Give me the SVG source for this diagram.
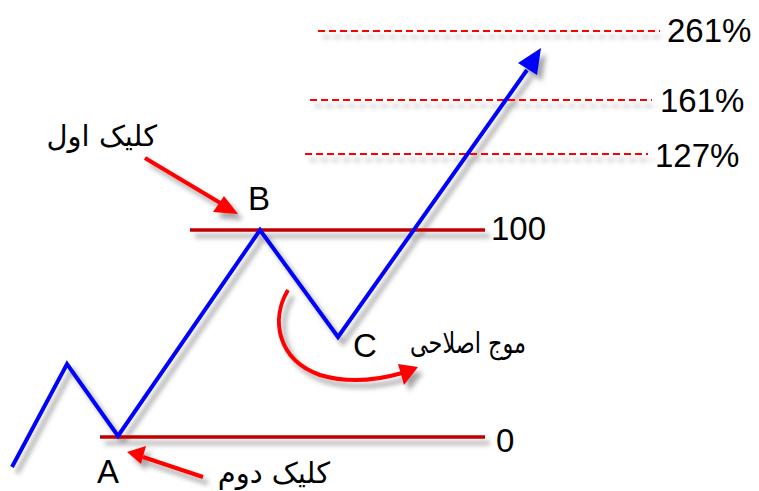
<svg xmlns="http://www.w3.org/2000/svg" width="759" height="491" viewBox="0 0 759 491">
<defs>
<filter id="sh" x="-10%" y="-20%" width="130%" height="160%">
<feGaussianBlur in="SourceAlpha" stdDeviation="2.5"/>
<feOffset dx="5" dy="6" result="b"/>
<feFlood flood-color="#000" flood-opacity="0.35"/>
<feComposite in2="b" operator="in" result="s"/>
<feMerge><feMergeNode in="s"/><feMergeNode in="SourceGraphic"/></feMerge>
</filter>
</defs>
<style>
.lvl{stroke:#c00000;stroke-width:3.5;fill:none}
.dash{stroke:#ff0000;stroke-width:2;stroke-dasharray:7,4;fill:none}
.wave{stroke:#0000ff;stroke-width:4;fill:none;stroke-linejoin:miter}
.red{stroke:#ff0000;stroke-width:4;fill:none}
.t{font-family:"Liberation Sans",Arial,sans-serif;font-size:33px;fill:#000}
.ar{font-family:"DejaVu Sans",sans-serif;font-size:29px;fill:#000}
</style>
<rect width="759" height="491" fill="#ffffff"/>
<g id="connectors" filter="url(#sh)">
<line class="dash" x1="318" y1="31" x2="660" y2="31"/>
<line class="dash" x1="310" y1="100" x2="652" y2="100"/>
<line class="dash" x1="305" y1="154" x2="648" y2="154"/>
<line class="lvl" x1="190" y1="230" x2="485" y2="230"/>
<line class="lvl" x1="100" y1="437" x2="485" y2="437"/>
<polyline class="wave" points="12,467 67,364 118,436 260,230 338,337 527,70"/>
<polygon points="541,48 518,63 537,75" fill="#0000ff"/>
<path class="red" d="M145,158 L222,204"/>
<polygon points="238,214 213,212 224,196" fill="#ff0000"/>
<path class="red" d="M203,477 L143,457"/>
<polygon points="127,452 146,446 141,464" fill="#ff0000"/>
<path class="red" d="M288,290 C270,320 278,360 320,375 C350,384 378,380 402,373"/>
<polygon points="418,367 398,364 404,385" fill="#ff0000"/>
</g>
<g id="n261"><text class="t" x="667" y="42">261%</text></g>
<g id="n161"><text class="t" x="660" y="112">161%</text></g>
<g id="n127"><text class="t" x="655" y="167">127%</text></g>
<g id="n100"><text class="t" x="491" y="240">100</text></g>
<g id="n0"><text class="t" x="496" y="452">0</text></g>
<g id="nB"><text class="t" x="248" y="210">B</text></g>
<g id="nC"><text class="t" x="353" y="357">C</text></g>
<g id="nA"><text class="t" x="97" y="483">A</text></g>
<g id="click1"><text class="ar" x="157" y="146" text-anchor="end">کلیک اول</text></g>
<g id="correction"><text class="ar" x="526" y="353" text-anchor="end" font-size="27" textLength="116" lengthAdjust="spacingAndGlyphs">موج اصلاحی</text></g>
<g id="click2"><text class="ar" x="330" y="483" text-anchor="end">کلیک دوم</text></g>
</svg>
